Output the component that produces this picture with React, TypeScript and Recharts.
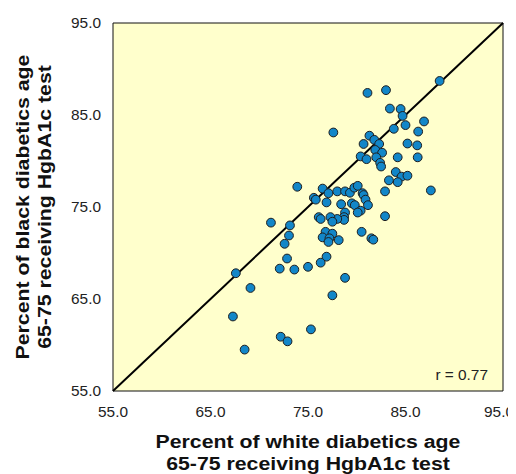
import { ScatterChart, Scatter, XAxis, YAxis, ReferenceArea, ReferenceLine } from "recharts"

// HgbA1c testing rates by hospital referral region, white vs black diabetics aged 65-75
const whiteRate = [
  88.5, 81.1, 83.0, 83.4, 84.5, 84.7, 86.9, 85.0, 83.8, 86.3,
  77.6, 81.3, 81.8, 80.7, 82.3, 85.2, 86.2, 81.9, 82.6, 80.4,
  81.0, 82.0, 84.2, 86.25, 82.4, 82.5, 84.0, 84.6, 85.2, 83.3,
  84.2, 82.9, 87.6, 73.9, 76.5, 75.6, 75.8, 77.1, 78.0, 78.8,
  79.3, 79.75, 80.1, 80.6, 80.7, 80.9, 81.15, 76.9, 78.4, 79.5,
  79.8, 80.4, 80.1, 78.8, 78.7, 78.7, 78.0, 77.3, 77.5, 76.1,
  76.3, 82.9, 71.2, 73.15, 73.05, 72.6, 76.8, 77.5, 76.5, 77.2,
  77.1, 78.15, 80.5, 81.5, 81.7, 72.85, 76.9, 76.3, 72.1, 73.6,
  75.0, 78.8, 67.6, 69.1, 77.5, 67.3, 75.3, 72.2, 72.9, 68.5,
]
const blackRate = [
  88.7, 87.4, 87.7, 85.7, 85.65, 84.9, 84.3, 83.9, 83.5, 83.2,
  83.1, 82.75, 82.3, 81.85, 81.85, 81.9, 81.7, 81.2, 80.9, 80.5,
  80.2, 80.4, 80.4, 80.4, 79.8, 79.4, 78.8, 78.3, 78.4, 77.9,
  77.7, 76.7, 76.8, 77.2, 77.0, 76.0, 75.8, 76.5, 76.7, 76.7,
  76.55, 77.1, 77.3, 76.5, 76.3, 75.8, 75.2, 75.5, 75.3, 75.4,
  75.2, 74.6, 74.4, 74.4, 73.9, 73.6, 73.7, 73.9, 73.4, 73.9,
  73.7, 74.0, 73.3, 73.0, 71.9, 71.0, 72.3, 72.1, 71.7, 71.6,
  71.2, 71.4, 72.3, 71.6, 71.45, 69.4, 69.6, 68.95, 68.3, 68.2,
  68.5, 67.3, 67.8, 66.2, 65.4, 63.1, 61.7, 60.9, 60.4, 59.5,
]
const axisTicks = [55, 65, 75, 85, 95]
const correlation = 0.77

const points = whiteRate.map((w, i) => ({ white: w, black: blackRate[i] }))

const FONT = '"Liberation Sans", Arial, Helvetica, sans-serif'
const STRETCH = 1.1
const CHART_W = 508
const CHART_H = 466

function XTick(props: any) {
  const { x, y, payload } = props
  // keep the last label inside the chart's right edge
  const cx = Math.min(x, CHART_W - 17)
  return (
    <text
      transform={`translate(${cx},${y + 26}) scale(${STRETCH},1)`}
      textAnchor="middle"
      fontFamily={FONT}
      fontSize={14}
      fill="#222"
    >
      {Number(payload.value).toFixed(1)}
    </text>
  )
}

function YTick(props: any) {
  const { x, y, payload } = props
  return (
    <text
      transform={`translate(${x - 12},${y + 5}) scale(${STRETCH},1)`}
      textAnchor="end"
      fontFamily={FONT}
      fontSize={14}
      fill="#222"
    >
      {Number(payload.value).toFixed(1)}
    </text>
  )
}

function Dot(props: any) {
  return <circle cx={props.cx} cy={props.cy} r={4.4} fill="#1286c8" stroke="#1e1e1e" strokeWidth={1} />
}

export default function App() {
  return (
    <div style={{ position: "relative", width: CHART_W, height: CHART_H }}>
      <ScatterChart width={CHART_W} height={CHART_H} margin={{ top: 15, right: 13, bottom: 53, left: 45 }}>
        <XAxis
          type="number"
          dataKey="white"
          domain={[55, 95]}
          ticks={axisTicks}
          axisLine={false}
          tickLine={false}
          tickSize={0}
          tickMargin={0}
          height={30}
          tick={<XTick />}
        />
        <YAxis
          type="number"
          dataKey="black"
          domain={[55, 95]}
          ticks={axisTicks}
          axisLine={false}
          tickLine={false}
          tickSize={0}
          tickMargin={0}
          width={60}
          tick={<YTick />}
        />
        <ReferenceArea x1={55} x2={95} y1={55} y2={95} fill="#ffffcc" fillOpacity={1} stroke="#111" strokeWidth={1} />
        <ReferenceLine
          segment={[{ x: 55, y: 55 }, { x: 95, y: 95 }]}
          stroke="#000"
          strokeWidth={2}
        />
        <Scatter data={points} shape={<Dot />} isAnimationActive={false} />
      </ScatterChart>
      <svg width={CHART_W} height={CHART_H} style={{ position: "absolute", left: 0, top: 0, pointerEvents: "none" }}>
        <text
          transform={`translate(480,372) scale(${STRETCH},1)`}
          textAnchor="end"
          fontFamily={FONT}
          fontSize={14}
          fill="#222"
        >
          {`r = ${correlation.toFixed(2)}`}
        </text>
        <g fontFamily={FONT} fontSize={19} fontWeight="bold" fill="#111" textAnchor="middle">
          <text transform={`translate(300,440) scale(1.12,1)`}>Percent of white diabetics age</text>
          <text transform={`translate(300,462) scale(1.12,1)`}>65-75 receiving HgbA1c test</text>
          <text transform={`translate(20.5,199) rotate(-90) scale(1.12,1)`}>Percent of black diabetics age</text>
          <text transform={`translate(42.5,199) rotate(-90) scale(1.12,1)`}>65-75 receiving HgbA1c test</text>
        </g>
      </svg>
    </div>
  )
}
